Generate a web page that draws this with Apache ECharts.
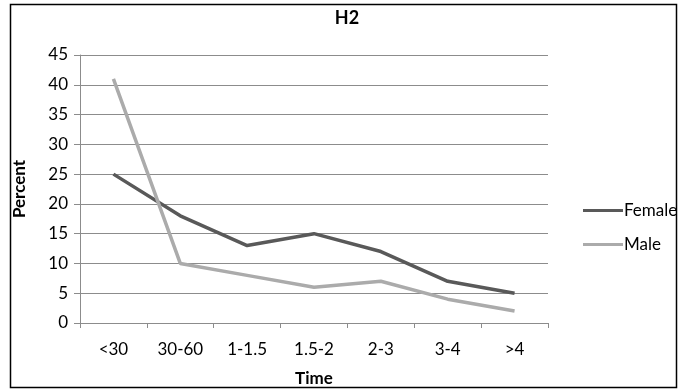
<!DOCTYPE html>
<html>
<head>
<meta charset="utf-8">
<script src="https://cdn.jsdelivr.net/npm/echarts@6/dist/echarts.min.js"></script>
<style>
html, body { margin: 0; padding: 0; background: #fff; }
#main { width: 678px; height: 389px; }
</style>
</head>
<body>
<div id="main"></div>
<script>
var categories = ["<30", "30-60", "1-1.5", "1.5-2", "2-3", "3-4", ">4"];
var female = [25, 18, 13, 15, 12, 7, 5];
var male = [41, 10, 8, 6, 7, 4, 2];

var font = "Lato, 'Open Sans', sans-serif";
var chart = echarts.init(document.getElementById("main"));
var option = {
    animation: false,
    textStyle: { fontFamily: font },
    title: {
        text: "H2",
        left: 342,
        top: 4,
        textAlign: "center",
        textStyle: { fontSize: 18, fontWeight: "bold", color: "#000", fontFamily: font }
    },
    graphic: [{
        type: "rect",
        shape: { x: 10.5, y: 4.5, width: 666, height: 383 },
        style: { fill: "none", stroke: "#000", lineWidth: 1.5 }
    }],
    legend: {
        orient: "vertical",
        left: 578,
        top: 197,
        itemWidth: 40,
        itemHeight: 3,
        itemGap: 17,
        icon: "rect",
        textStyle: { fontSize: 17, color: "#000", fontFamily: font, padding: [0, 0, 0, -4] },
        data: ["Female", "Male"]
    },
    grid: { left: 80, top: 55, width: 468, height: 268, outerBoundsMode: "none", containLabel: false },
    xAxis: {
        type: "category",
        data: categories,
        boundaryGap: true,
        name: "Time",
        nameLocation: "middle",
        nameGap: 47,
        nameTextStyle: { fontSize: 17, fontWeight: "bold", color: "#000" },
        axisLine: { lineStyle: { color: "#8c8c8c" } },
        axisTick: { show: true, length: 5, lineStyle: { color: "#8c8c8c" } },
        axisLabel: { fontSize: 17, color: "#000", margin: 18 }
    },
    yAxis: {
        type: "value",
        min: 0,
        max: 45,
        interval: 5,
        name: "Percent",
        nameLocation: "middle",
        nameGap: 52,
        nameTextStyle: { fontSize: 17, fontWeight: "bold", color: "#000" },
        axisLine: { show: true, lineStyle: { color: "#8c8c8c" } },
        axisTick: { show: true, length: 6, lineStyle: { color: "#8c8c8c" } },
        axisLabel: { fontSize: 17, color: "#000", margin: 12 },
        splitLine: { lineStyle: { color: "#8c8c8c" } }
    },
    series: [{
        name: "Female",
        type: "line",
        data: female,
        symbol: "none",
        color: "#595959",
        lineStyle: { width: 3.5, color: "#595959" }
    }, {
        name: "Male",
        type: "line",
        data: male,
        symbol: "none",
        color: "#ababab",
        lineStyle: { width: 3.5, color: "#ababab" }
    }]
};
chart.setOption(option);
</script>
</body>
</html>
